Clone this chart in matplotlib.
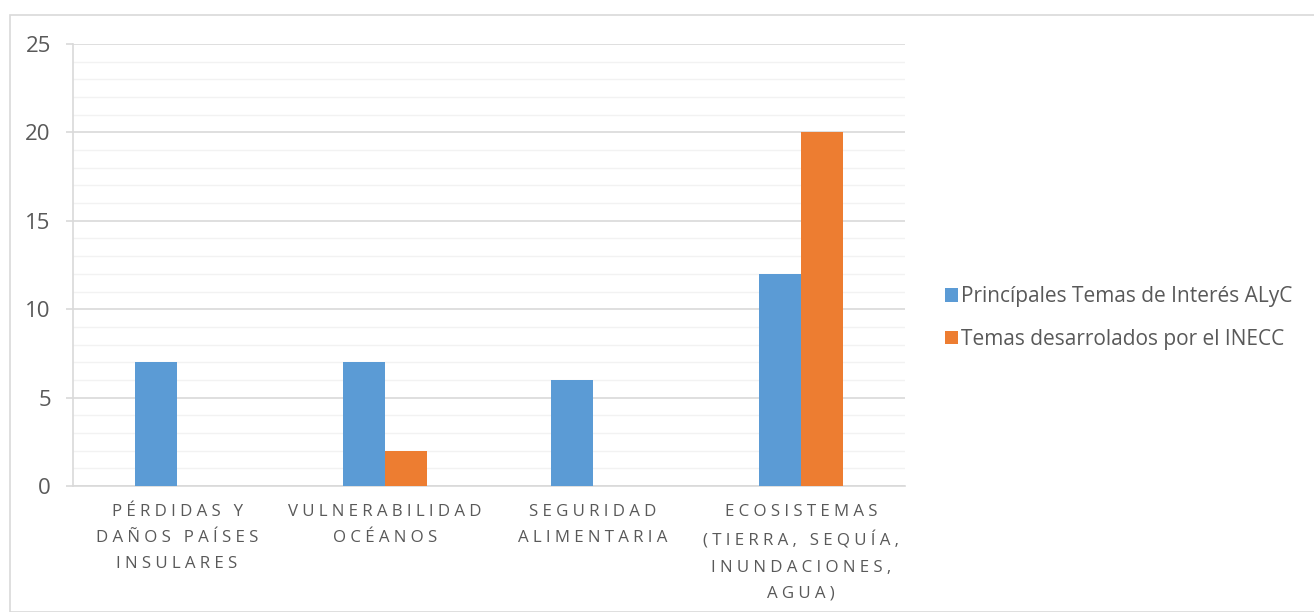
import matplotlib
matplotlib.use("Agg")
import matplotlib.pyplot as plt
from matplotlib.patches import Rectangle
import numpy as np

categories = [
    "PÉRDIDAS Y\nDAÑOS PAÍSES\nINSULARES",
    "VULNERABILIDAD\nOCÉANOS",
    "SEGURIDAD\nALIMENTARIA",
    "ECOSISTEMAS\n(TIERRA, SEQUÍA,\nINUNDACIONES,\nAGUA)",
]
alyc = [7, 7, 6, 12]
inecc = [0, 2, 0, 20]
series_names = ["Princípales Temas de Interés ALyC", "Temas desarrolados por el INECC"]

BLUE = "#5B9BD5"
ORANGE = "#ED7D31"
TEXT = "#595959"
FONT = ["Open Sans", "DejaVu Sans"]
plt.rcParams["font.family"] = FONT


def spaced(label, gap="\u2005"):
    # imitate Excel's wide letter spacing on category labels
    lines = []
    for line in label.split("\n"):
        lines.append(gap.join(line))
    return "\n".join(lines)


fig = plt.figure(figsize=(13.14, 6.12), dpi=100)
fig.patches.append(Rectangle((10 / 1314, 0), 1.0, 1 - 15 / 612, transform=fig.transFigure,
                             fill=False, edgecolor="#D9D9D9", linewidth=1.2))
ax = fig.add_axes([73 / 1314, 1 - 486 / 612, 832 / 1314, 442 / 612])

x = np.arange(len(categories))
w = 0.2
ax.bar(x - w / 2, alyc, w, color=BLUE, label=series_names[0], zorder=3)
ax.bar(x + w / 2, inecc, w, color=ORANGE, label=series_names[1], zorder=3)

ax.set_xlim(-0.5, len(categories) - 0.5)
ax.set_ylim(0, 25)
ax.set_yticks(np.arange(0, 26, 5))
ax.set_yticks(np.arange(0, 26, 1), minor=True)
ax.grid(axis="y", which="major", color="#D9D9D9", linewidth=1.2, zorder=0)
ax.grid(axis="y", which="minor", color="#F2F2F2", linewidth=1.0, zorder=0)
ax.tick_params(axis="y", which="major", length=5, color="#D9D9D9", width=1.2,
               labelsize=16, labelcolor=TEXT, pad=11)
ax.tick_params(axis="y", which="minor", length=0)

ax.set_xticks(x)
ax.set_xticklabels([spaced(c) for c in categories], fontsize=12.2, color=TEXT,
                   linespacing=1.83, va="top")
ax.tick_params(axis="x", length=0, pad=13)

for side in ["top", "right"]:
    ax.spines[side].set_visible(False)
ax.spines["left"].set_color("#D9D9D9")
ax.spines["bottom"].set_color("#D9D9D9")
ax.spines["left"].set_linewidth(1.2)
ax.spines["bottom"].set_linewidth(1.2)

leg = fig.legend(loc="center left", bbox_to_anchor=(0.7115, 0.48), frameon=False,
                 fontsize=15, handlelength=0.6, handleheight=0.6, handletextpad=0.15,
                 labelspacing=1.05, borderpad=0)
for t in leg.get_texts():
    t.set_color(TEXT)

fig.savefig("out.png", dpi=100)
